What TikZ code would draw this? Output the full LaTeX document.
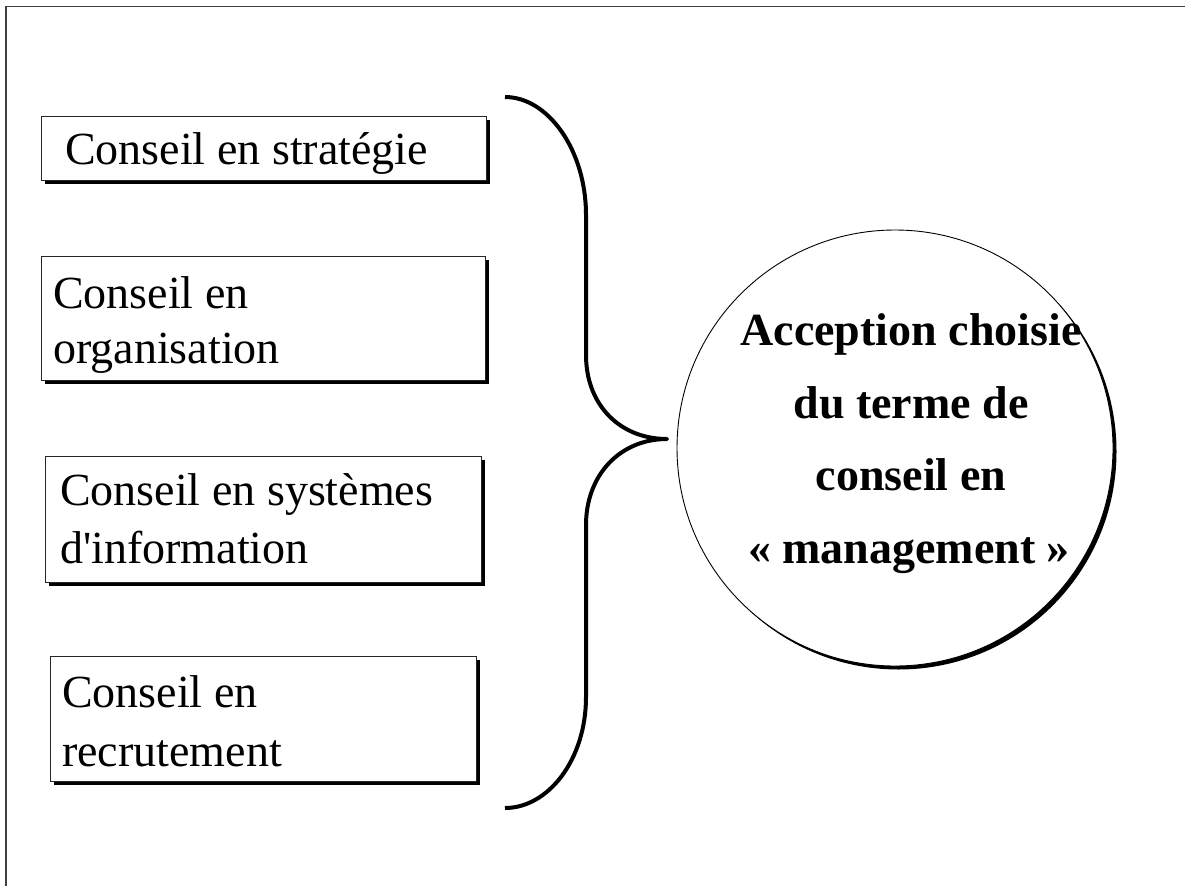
\documentclass[tikz,border=0pt]{standalone}
\usepackage{fontspec}
\setmainfont{Liberation Serif}[Ligatures=TeXOff]
\usetikzlibrary{shadows}
\begin{document}
\begin{tikzpicture}[x=1pt,y=-1pt,
  boxstyle/.style={draw=black!85, line width=1pt, fill=white, rectangle, inner sep=0pt,
    drop shadow={shadow xshift=4pt, shadow yshift=-4pt, opacity=1, fill=black}},
  circstyle/.style={draw=black, line width=0.9pt, fill=white, circle, inner sep=0pt,
    drop shadow={shadow xshift=3.5pt, shadow yshift=-3.5pt, opacity=1, fill=black}},
  lbl/.style={inner sep=0pt, font=\fontsize{46}{55}\selectfont},
  blbl/.style={inner sep=0pt, font=\fontsize{46}{55}\selectfont\bfseries},
  bracestyle/.style={line width=4pt, line cap=butt, line join=round}]
\useasboundingbox (0,0) rectangle (1185,886);
% frame
\coordinate (fbl) at (6,886);
\coordinate (ftl) at (6,6.5);
\coordinate (ftr) at (1185,6.5);
\draw[line width=1.8pt, black!75] (fbl) -- (ftl) -- (ftr);
% boxes
\node[boxstyle, minimum width=445, minimum height=64] (b1) at (263.5,148) {};
\node[boxstyle, minimum width=444, minimum height=124] (b2) at (263,318) {};
\node[boxstyle, minimum width=436, minimum height=126] (b3) at (263,519) {};
\node[boxstyle, minimum width=426, minimum height=125] (b4) at (263,718.5) {};
% labels
\node[lbl, anchor=base west] (t1) at (65,164) {Conseil en stratégie};
\node[lbl, anchor=base west] (t2a) at (53,308) {Conseil en};
\node[lbl, anchor=base west] (t2b) at (53,363) {organisation};
\node[lbl, anchor=base west] (t3a) at (60,505) {Conseil en systèmes};
\node[lbl, anchor=base west] (t3b) at (60,563) {d'information};
\node[lbl, anchor=base west] (t4a) at (62,707) {Conseil en};
\node[lbl, anchor=base west] (t4b) at (62,766) {recrutement};
% circle
\node[circstyle, minimum size=436] (c) at (895,448) {};
\node[blbl, anchor=base] (c1) at (911,345) {Acception choisie};
\node[blbl, anchor=base] (c2) at (911,418) {du terme de};
\node[blbl, anchor=base] (c3) at (911,490) {conseil en};
\node[blbl, anchor=base] (c4) at (909,563) {« management »};
% brace
\coordinate (btop) at (505,97);
\coordinate (bu1) at (586,215);
\coordinate (bu2) at (586,355);
\coordinate (tip) at (667,439);
\coordinate (bl1) at (586,525);
\coordinate (bl2) at (586,697);
\coordinate (bbot) at (505,808);
\draw[bracestyle] (btop) .. controls (548,97) and (586,150) .. (bu1)
  -- (bu2) .. controls (586,405) and (620,439) .. (tip)
  .. controls (620,439) and (586,475) .. (bl1)
  -- (bl2) .. controls (586,760) and (548,808) .. (bbot);
\end{tikzpicture}
\end{document}
